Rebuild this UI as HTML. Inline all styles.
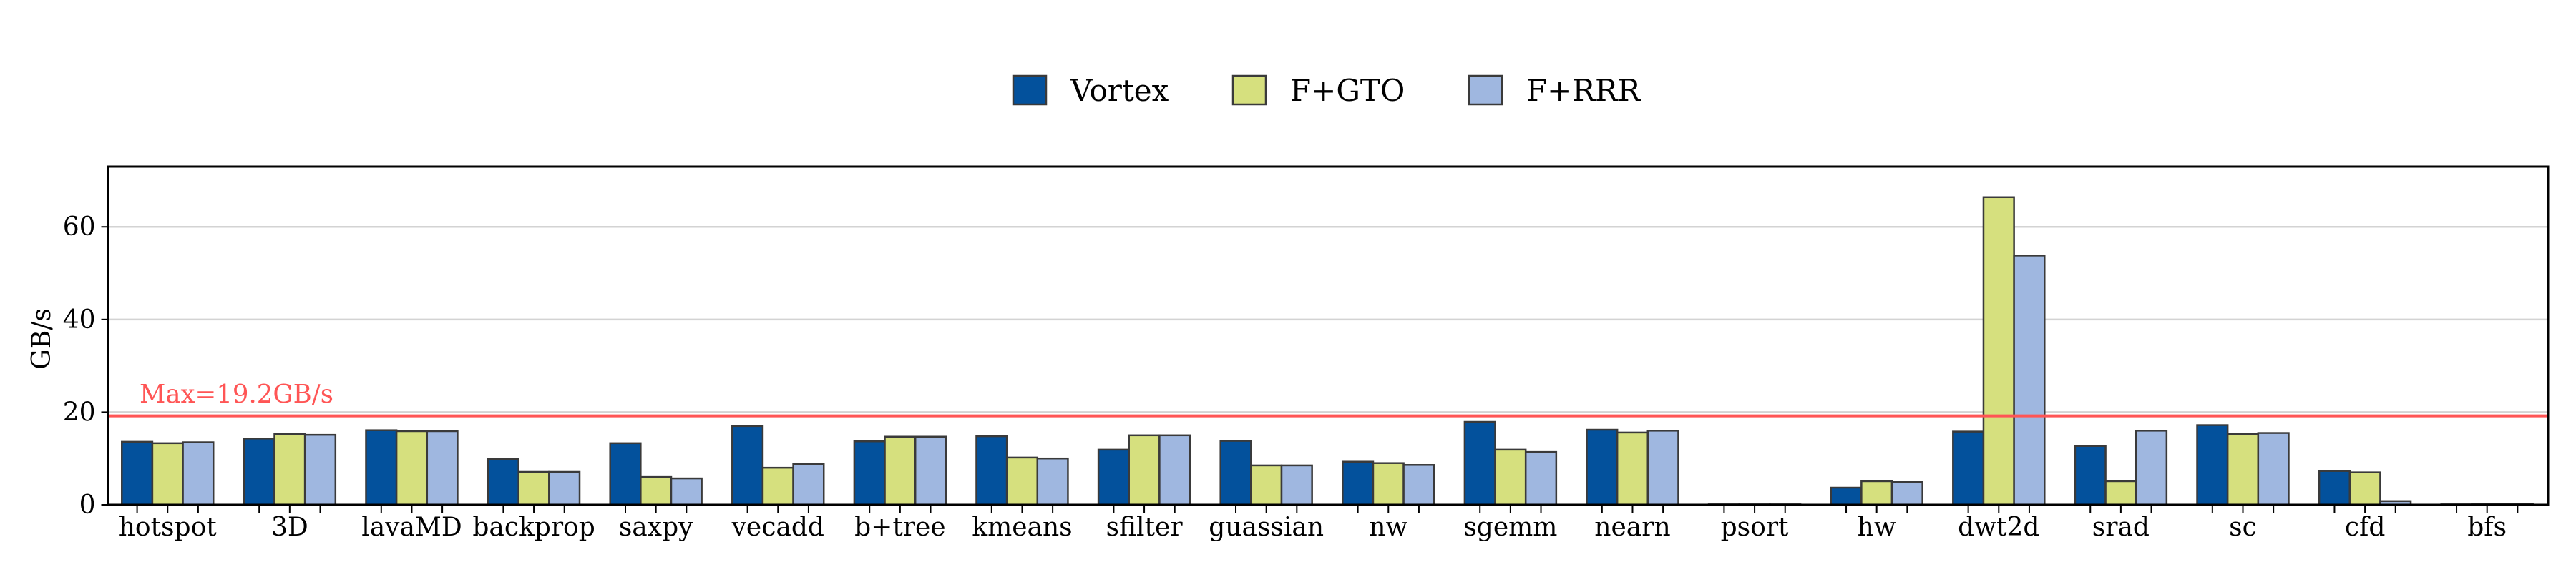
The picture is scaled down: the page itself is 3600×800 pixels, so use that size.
<!DOCTYPE html>
<html><head><meta charset="utf-8"><style>
html,body{margin:0;padding:0;background:#fff;}
svg{display:block;font-family:"DejaVu Serif","Liberation Serif",serif;}
</style></head><body>
<svg id="chart" width="3600" height="800" viewBox="0 0 3600 800" xmlns="http://www.w3.org/2000/svg">
<g id="legend"></g>
<g id="grid"></g>
<g id="bars"></g>
<g id="axes"></g>
</svg>
<script>
const categories = ["hotspot","3D","lavaMD","backprop","saxpy","vecadd","b+tree","kmeans","sfilter","guassian","nw","sgemm","nearn","psort","hw","dwt2d","srad","sc","cfd","bfs"];
const seriesNames = ["Vortex","F+GTO","F+RRR"];
const vortex = [13.6,14.3,16.1,9.9,13.3,17.0,13.7,14.8,11.9,13.8,9.3,17.9,16.2,0.1,3.7,15.8,12.7,17.2,7.3,0.1];
const fgto   = [13.3,15.3,15.9,7.1,6.0,8.0,14.7,10.2,15.0,8.5,9.0,11.9,15.6,0.1,5.1,66.4,5.1,15.3,7.0,0.2];
const frrr   = [13.5,15.1,15.9,7.1,5.7,8.8,14.7,10.0,15.0,8.5,8.6,11.4,16.0,0.1,4.9,53.8,16.0,15.5,0.8,0.2];
const yTicks = [0,20,40,60];
const maxLine = 19.2;
const maxLabel = "Max=19.2GB/s";

const colors = ["#03519c","#d6e07e","#9fb7e0"];
const series = [vortex,fgto,frrr];
const NS="http://www.w3.org/2000/svg";
const L=151.5,R=3561,T=233,B=706;
const xMin=-0.485,xMax=19.5,yMin=0,yMax=73;
function xs(v){return L+(v-xMin)/(xMax-xMin)*(R-L);}
function ys(v){return B-(v-yMin)/(yMax-yMin)*(B-T);}
function mk(tag,attrs,parent){const e=document.createElementNS(NS,tag);for(const k in attrs)e.setAttribute(k,attrs[k]);parent.appendChild(e);return e;}
const gGrid=document.getElementById('grid'),gBars=document.getElementById('bars'),gAxes=document.getElementById('axes'),gLeg=document.getElementById('legend');

yTicks.forEach(t=>{
  if(t>0){const ln=mk('line',{x1:L,x2:R,y1:ys(t),y2:ys(t),stroke:'#d3d3d3','stroke-width':2.5},gGrid);
  
  }
  const tk=mk('line',{x1:L-10,x2:L,y1:ys(t),y2:ys(t),stroke:'#000','stroke-width':2},gAxes);
  
  
  const tx=mk('text',{x:L-18,y:ys(t)+12,'text-anchor':'end','font-size':36,fill:'#000'},gAxes);
  tx.textContent=t;
  
  
});

const bw=0.25;
categories.forEach((c,i)=>{
  series.forEach((s,j)=>{
    const cx=i+(j-1)*bw;
    const x0=xs(cx-bw/2),x1=xs(cx+bw/2);
    const r=mk('rect',{x:x0,y:ys(s[i]),width:x1-x0,height:ys(0)-ys(s[i]),fill:colors[j],stroke:'#3a3a3a','stroke-width':2.5},gBars);
    
    
    const tk=mk('line',{x1:xs(cx),x2:xs(cx),y1:B,y2:B+11,stroke:'#000','stroke-width':2},gAxes);
    
    
  });
  const tx=mk('text',{x:xs(i),y:749,'text-anchor':'middle','font-size':36,fill:'#000'},gAxes);
  tx.textContent=c;
  
  
});

const ml=mk('line',{x1:L,x2:R,y1:ys(maxLine),y2:ys(maxLine),stroke:'#ff5555','stroke-width':4},gAxes);


const mt=mk('text',{x:195,y:563,'font-size':35.5,fill:'#ff5555'},gAxes);
mt.textContent=maxLabel;



const frame=mk('rect',{x:L,y:T,width:R-L,height:B-T,fill:'none',stroke:'#000','stroke-width':3},gAxes);



const yl=mk('text',{x:0,y:0,'text-anchor':'middle','font-size':36,fill:'#000',transform:'translate(70,474) rotate(-90)'},gAxes);
yl.textContent='GB/s';



const legX=[1416,1723,2053];
seriesNames.forEach((n,j)=>{
  const r=mk('rect',{x:legX[j],y:106,width:46,height:40,fill:colors[j],stroke:'#3a3a3a','stroke-width':2.5},gLeg);
  
  
  const t=mk('text',{x:legX[j]+80,y:141,'font-size':42,fill:'#000'},gLeg);
  t.textContent=n;
  
  
});
</script>
</body></html>
